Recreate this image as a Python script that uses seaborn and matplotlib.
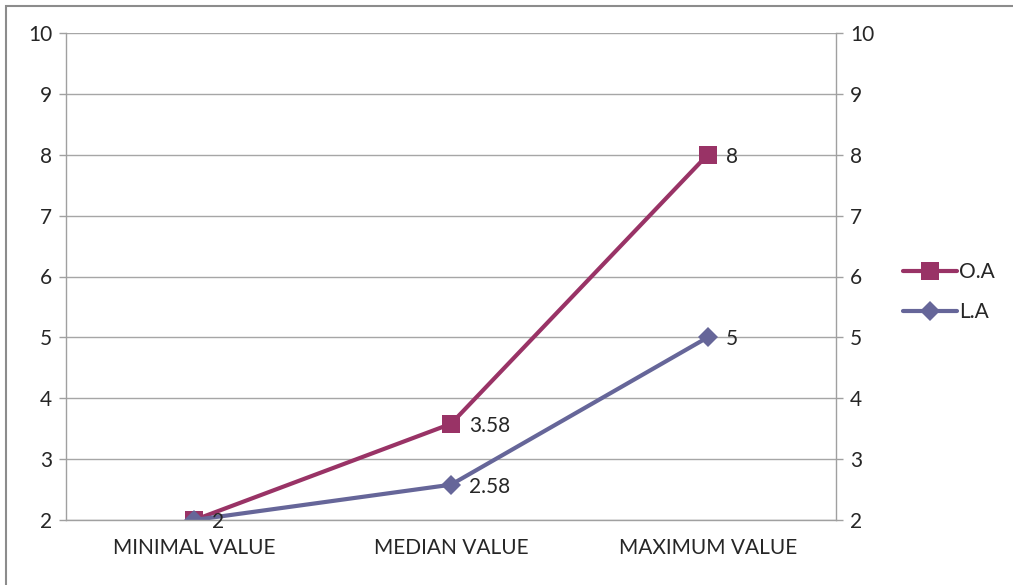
import pandas as pd
import matplotlib.pyplot as plt
import seaborn as sns
from matplotlib.patches import Rectangle

categories = ["MINIMAL VALUE", "MEDIAN VALUE", "MAXIMUM VALUE"]
oa_values = [2, 3.58, 8]
la_values = [2, 2.58, 5]
oa_labels = ["", "3.58", "8"]
la_labels = ["2", "2.58", "5"]
y_ticks = [2, 3, 4, 5, 6, 7, 8, 9, 10]

df = pd.DataFrame({
    "cat": categories * 2,
    "value": oa_values + la_values,
    "series": ["O.A"] * 3 + ["L.A"] * 3,
})

sns.set_style("white")
plt.rcParams['font.family'] = ['Lato', 'DejaVu Sans']

fig = plt.figure(figsize=(10.13, 5.85), dpi=100)
ax = fig.add_axes([66 / 1013, 65 / 585, 770 / 1013, 487 / 585])

palette = {"O.A": "#993366", "L.A": "#666699"}
sns.lineplot(data=df, x="cat", y="value", hue="series", style="series",
             markers={"O.A": "s", "L.A": "D"}, dashes=False, palette=palette,
             linewidth=3, markeredgewidth=0, ax=ax, sort=False)
# bigger markers per series
for line in ax.lines:
    if line.get_marker() == "s":
        line.set_markersize(13)
    elif line.get_marker() == "D":
        line.set_markersize(10.5)

fs = 15
for i, (lab, v) in enumerate(zip(oa_labels, oa_values)):
    if lab:
        ax.annotate(lab, (i, v), xytext=(13, 0), textcoords="offset points",
                    ha="left", va="center_baseline", fontsize=fs)
for i, (lab, v) in enumerate(zip(la_labels, la_values)):
    if lab:
        ax.annotate(lab, (i, v), xytext=(13, 0), textcoords="offset points",
                    ha="left", va="center_baseline", fontsize=fs)

ax.set_xlim(-0.5, 2.5)
ax.set_ylim(2, 10)
ax.set_yticks(y_ticks)
ax.set_xticks(range(3))
ax.set_xticklabels(categories)
ax.set_xticks([-0.5, 0.5, 1.5, 2.5], minor=True)
ax.set_xlabel("")
ax.set_ylabel("")
ax.grid(axis="y", color="#a6a6a6", linewidth=1)
ax.set_axisbelow(True)
ax.tick_params(axis="y", left=True, right=True, labelleft=True, labelright=True,
               length=5, width=1, color="#a0a0a0", labelsize=fs, pad=5)
ax.tick_params(axis="x", which="major", length=0, labelsize=fs, pad=13)
ax.tick_params(axis="x", which="minor", length=6, width=1, color="#a0a0a0")
for s in ["left", "right", "bottom"]:
    ax.spines[s].set_color("#a0a0a0")
    ax.spines[s].set_linewidth(1)
ax.spines["top"].set_visible(False)

ax.legend(loc="center left", bbox_to_anchor=(903 / 1013, 293 / 585),
          bbox_transform=fig.transFigure, frameon=False, fontsize=fs,
          handlelength=2.6, handletextpad=0.1, labelspacing=0.95, borderaxespad=0,
          borderpad=0)

fig.patches.append(Rectangle((6 / 1013, -0.1), 1.2, (579 / 585) + 0.1,
                             transform=fig.transFigure, fill=False,
                             edgecolor="#8c8c8c", linewidth=1.5))

plt.savefig("out.png", dpi=100)
